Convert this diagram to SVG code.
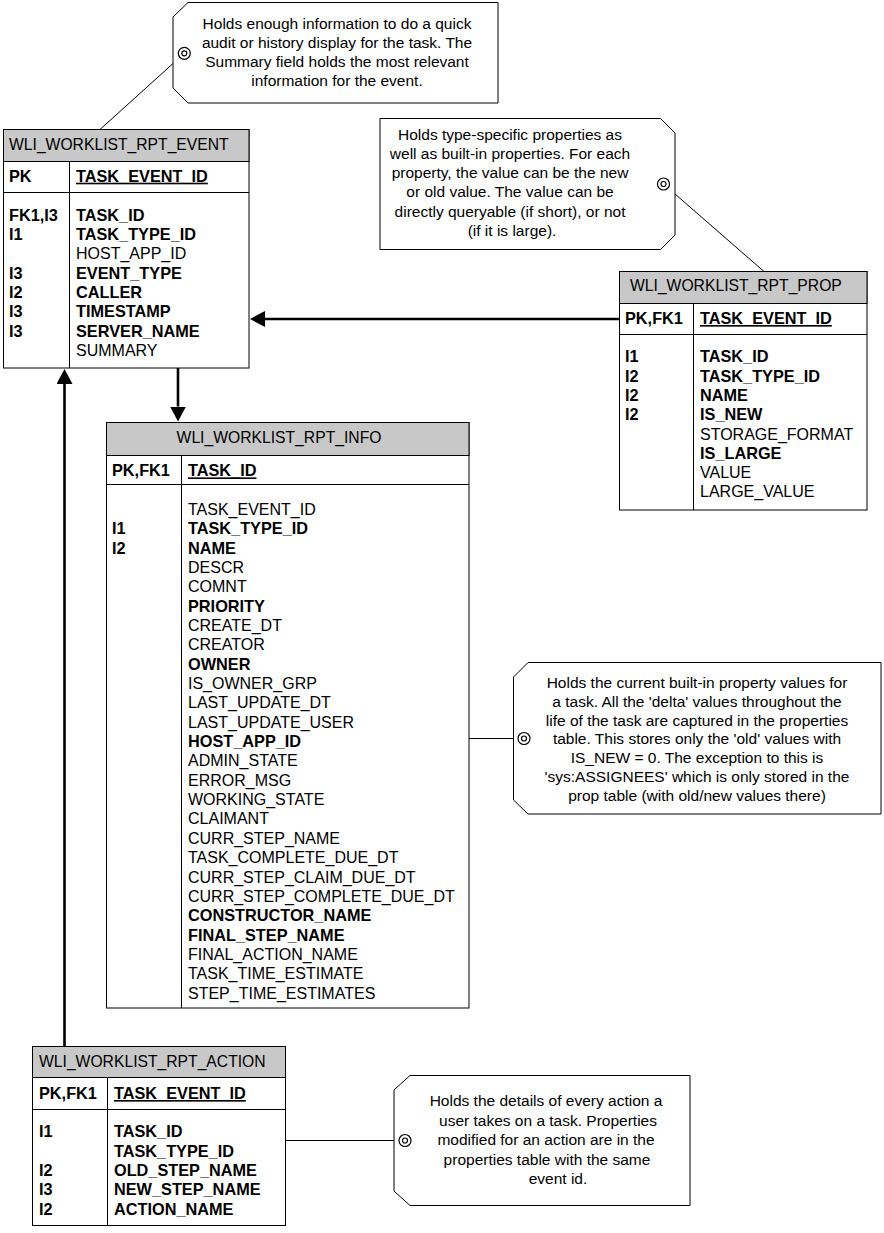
<svg xmlns="http://www.w3.org/2000/svg" width="884" height="1233" viewBox="0 0 884 1233">
<defs>
<style>
text{font-family:"Liberation Sans",Arial,sans-serif;fill:#000}
.h{font-size:15.7px}
.f{font-size:16px}
.b{font-size:16.3px;font-weight:bold}
.pk{font-size:16.3px;font-weight:bold;text-decoration:underline}
.n{font-size:15.5px;text-anchor:middle}
.tb{fill:#fff;stroke:#000;stroke-width:1}
.hd{fill:#c8c8c8;stroke:#000;stroke-width:1}
.ln{stroke:#000;stroke-width:1.2;fill:none}
.note{fill:#fff;stroke:#000;stroke-width:1}
.rel{stroke:#000;stroke-width:2.6;fill:none}
.nl{stroke:#000;stroke-width:1;fill:none}
</style>
<marker id="arr" markerUnits="userSpaceOnUse" markerWidth="16" markerHeight="16" refX="0" refY="8" orient="auto">
<path d="M0,0 L15,8 L0,16 Z" fill="#000"/>
</marker>
</defs>
<rect x="0" y="0" width="884" height="1233" fill="#fff"/>

<g id="connectors">
<line class="rel" x1="619.5" y1="319" x2="265" y2="319" marker-end="url(#arr)"/>
<line class="rel" x1="178" y1="368" x2="178" y2="406.5" marker-end="url(#arr)"/>
<line class="rel" x1="64.5" y1="1046" x2="64.5" y2="384" marker-end="url(#arr)"/>
<line class="nl" x1="100" y1="129.5" x2="179.8" y2="57.4"/>
<line class="nl" x1="764" y1="271.5" x2="668" y2="187.9"/>
<line class="nl" x1="425" y1="738.5" x2="518" y2="738.5"/>
<line class="nl" x1="278" y1="1140.5" x2="399" y2="1140.5"/>
</g>

<g id="note-event">
<path class="note" d="M188,2.5 L498,2.5 L498,103 L188,103 L173,88 L173,17 Z"/>
<circle class="ln" cx="184.3" cy="53.3" r="6"/>
<circle class="ln" cx="184.3" cy="53.3" r="2.5"/>
<text class="n" x="337" y="29">Holds enough information to do a quick</text>
<text class="n" x="337" y="48">audit or history display for the task. The</text>
<text class="n" x="337" y="67">Summary field holds the most relevant</text>
<text class="n" x="337" y="86">information for the event.</text>
</g>

<g id="note-prop">
<path class="note" d="M380,118.5 L660.5,118.5 L675,133 L675,235 L660.5,249.5 L380,249.5 Z"/>
<circle class="ln" cx="663.5" cy="184" r="6"/>
<circle class="ln" cx="663.5" cy="184" r="2.5"/>
<text class="n" x="510" y="139.5">Holds type-specific properties as</text>
<text class="n" x="510" y="158.8">well as built-in properties. For each</text>
<text class="n" x="510" y="178.1">property, the value can be the new</text>
<text class="n" x="510" y="197.4">or old value. The value can be</text>
<text class="n" x="510" y="216.7">directly queryable (if short), or not</text>
<text class="n" x="512" y="236">(if it is large).</text>
</g>

<g id="note-info">
<path class="note" d="M528,662.5 L881,662.5 L881,814 L528,814 L513.5,800 L513.5,677 Z"/>
<circle class="ln" cx="524" cy="738.5" r="6"/>
<circle class="ln" cx="524" cy="738.5" r="2.5"/>
<text class="n" x="697" y="688">Holds the current built-in property values for</text>
<text class="n" x="697" y="706.8">a task. All the 'delta' values throughout the</text>
<text class="n" x="697" y="725.6">life of the task are captured in the properties</text>
<text class="n" x="697" y="744.4">table. This stores only the 'old' values with</text>
<text class="n" x="697" y="763.2">IS_NEW = 0. The exception to this is</text>
<text class="n" x="697" y="782">'sys:ASSIGNEES' which is only stored in the</text>
<text class="n" x="697" y="800.8">prop table (with old/new values there)</text>
</g>

<g id="note-action">
<path class="note" d="M410,1075.5 L690,1075.5 L690,1205.5 L410,1205.5 L394,1191 L394,1090 Z"/>
<circle class="ln" cx="405" cy="1140.5" r="6"/>
<circle class="ln" cx="405" cy="1140.5" r="2.5"/>
<text class="n" x="546" y="1106">Holds the details of every action a</text>
<text class="n" x="548" y="1125.5">user takes on a task. Properties</text>
<text class="n" x="546" y="1145">modified for an action are in the</text>
<text class="n" x="547" y="1164.5">properties table with the same</text>
<text class="n" x="558" y="1184">event id.</text>
</g>

<g id="WLI_WORKLIST_RPT_EVENT">
<rect class="tb" x="3.5" y="129.5" width="245.5" height="238.5"/>
<rect class="hd" x="3.5" y="129.5" width="245.5" height="32"/>
<line class="nl" x1="3.5" y1="192.5" x2="249" y2="192.5"/>
<line class="nl" x1="69.5" y1="161.5" x2="69.5" y2="368"/>
<text class="h" x="9" y="150">WLI_WORKLIST_RPT_EVENT</text>
<text class="b" x="9" y="181.7">PK</text>
<text class="pk" x="76" y="181.7">TASK_EVENT_ID</text>
<text class="b" x="9" y="220.7">FK1,I3</text>
<text class="b" x="9" y="240">I1</text>
<text class="b" x="9" y="278.6">I3</text>
<text class="b" x="9" y="297.9">I2</text>
<text class="b" x="9" y="317.2">I3</text>
<text class="b" x="9" y="336.5">I3</text>
<text class="b" x="76" y="220.7">TASK_ID</text>
<text class="b" x="76" y="240">TASK_TYPE_ID</text>
<text class="f" x="76" y="259.3">HOST_APP_ID</text>
<text class="b" x="76" y="278.6">EVENT_TYPE</text>
<text class="b" x="76" y="297.9">CALLER</text>
<text class="b" x="76" y="317.2">TIMESTAMP</text>
<text class="b" x="76" y="336.5">SERVER_NAME</text>
<text class="f" x="76" y="355.8">SUMMARY</text>
</g>

<g id="WLI_WORKLIST_RPT_PROP">
<rect class="tb" x="619.5" y="271.5" width="247.5" height="238.5"/>
<rect class="hd" x="619.5" y="271.5" width="247.5" height="32"/>
<line class="nl" x1="619.5" y1="334.5" x2="867" y2="334.5"/>
<line class="nl" x1="693.5" y1="303.5" x2="693.5" y2="510"/>
<text class="h" x="630" y="291.4">WLI_WORKLIST_RPT_PROP</text>
<text class="b" x="625" y="324">PK,FK1</text>
<text class="pk" x="700" y="324">TASK_EVENT_ID</text>
<text class="b" x="625" y="362.4">I1</text>
<text class="b" x="625" y="381.7">I2</text>
<text class="b" x="625" y="401">I2</text>
<text class="b" x="625" y="420.3">I2</text>
<text class="b" x="700" y="362.4">TASK_ID</text>
<text class="b" x="700" y="381.7">TASK_TYPE_ID</text>
<text class="b" x="700" y="401">NAME</text>
<text class="b" x="700" y="420.3">IS_NEW</text>
<text class="f" x="700" y="439.6">STORAGE_FORMAT</text>
<text class="b" x="700" y="458.9">IS_LARGE</text>
<text class="f" x="700" y="478.1">VALUE</text>
<text class="f" x="700" y="497.4">LARGE_VALUE</text>
</g>

<g id="WLI_WORKLIST_RPT_INFO">
<rect class="tb" x="106.5" y="422.5" width="362.5" height="585.5"/>
<rect class="hd" x="106.5" y="422.5" width="362.5" height="33"/>
<line class="nl" x1="106.5" y1="484.5" x2="469" y2="484.5"/>
<line class="nl" x1="181.5" y1="455.5" x2="181.5" y2="1008"/>
<text class="h" x="279" y="443" text-anchor="middle">WLI_WORKLIST_RPT_INFO</text>
<text class="b" x="112" y="476.4">PK,FK1</text>
<text class="pk" x="188" y="476.4">TASK_ID</text>
<text class="b" x="112" y="534.3">I1</text>
<text class="b" x="112" y="553.7">I2</text>
<text class="f" x="188" y="515">TASK_EVENT_ID</text>
<text class="b" x="188" y="534.3">TASK_TYPE_ID</text>
<text class="b" x="188" y="553.7">NAME</text>
<text class="f" x="188" y="573">DESCR</text>
<text class="f" x="188" y="592.4">COMNT</text>
<text class="b" x="188" y="611.7">PRIORITY</text>
<text class="f" x="188" y="631">CREATE_DT</text>
<text class="f" x="188" y="650.4">CREATOR</text>
<text class="b" x="188" y="669.7">OWNER</text>
<text class="f" x="188" y="689.1">IS_OWNER_GRP</text>
<text class="f" x="188" y="708.4">LAST_UPDATE_DT</text>
<text class="f" x="188" y="727.7">LAST_UPDATE_USER</text>
<text class="b" x="188" y="747.1">HOST_APP_ID</text>
<text class="f" x="188" y="766.4">ADMIN_STATE</text>
<text class="f" x="188" y="785.8">ERROR_MSG</text>
<text class="f" x="188" y="805.1">WORKING_STATE</text>
<text class="f" x="188" y="824.4">CLAIMANT</text>
<text class="f" x="188" y="843.8">CURR_STEP_NAME</text>
<text class="f" x="188" y="863.1">TASK_COMPLETE_DUE_DT</text>
<text class="f" x="188" y="882.5">CURR_STEP_CLAIM_DUE_DT</text>
<text class="f" x="188" y="901.8">CURR_STEP_COMPLETE_DUE_DT</text>
<text class="b" x="188" y="921.1">CONSTRUCTOR_NAME</text>
<text class="b" x="188" y="940.5">FINAL_STEP_NAME</text>
<text class="f" x="188" y="959.8">FINAL_ACTION_NAME</text>
<text class="f" x="188" y="979.2">TASK_TIME_ESTIMATE</text>
<text class="f" x="188" y="998.5">STEP_TIME_ESTIMATES</text>
</g>

<g id="WLI_WORKLIST_RPT_ACTION">
<rect class="tb" x="32.5" y="1046.5" width="253" height="179"/>
<rect class="hd" x="32.5" y="1046.5" width="253" height="31"/>
<line class="nl" x1="32.5" y1="1109.5" x2="285.5" y2="1109.5"/>
<line class="nl" x1="107.5" y1="1077.5" x2="107.5" y2="1225.5"/>
<text class="h" x="39" y="1067.4">WLI_WORKLIST_RPT_ACTION</text>
<text class="b" x="39" y="1099">PK,FK1</text>
<text class="pk" x="114" y="1099">TASK_EVENT_ID</text>
<text class="b" x="39" y="1137.4">I1</text>
<text class="b" x="39" y="1176">I2</text>
<text class="b" x="39" y="1195.3">I3</text>
<text class="b" x="39" y="1214.6">I2</text>
<text class="b" x="114" y="1137.4">TASK_ID</text>
<text class="b" x="114" y="1156.7">TASK_TYPE_ID</text>
<text class="b" x="114" y="1176">OLD_STEP_NAME</text>
<text class="b" x="114" y="1195.3">NEW_STEP_NAME</text>
<text class="b" x="114" y="1214.6">ACTION_NAME</text>
</g>
</svg>
